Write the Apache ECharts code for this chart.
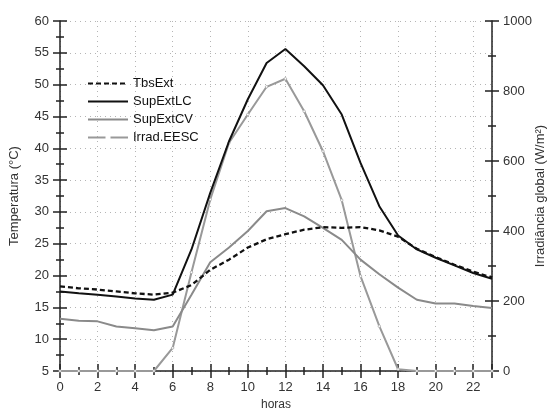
<!DOCTYPE html>
<html>
<head>
<meta charset="utf-8">
<script src="https://cdn.jsdelivr.net/npm/echarts@6/dist/echarts.min.js"></script>
<style>
  html, body { margin: 0; padding: 0; background: #fff; }
  #chart { width: 553px; height: 412px; }
</style>
</head>
<body>
<div id="chart"></div>
<script>
  // horas do dia
  var hours = [0, 1, 2, 3, 4, 5, 6, 7, 8, 9, 10, 11, 12, 13, 14, 15, 16, 17, 18, 19, 20, 21, 22, 23];

  // temperaturas (°C)
  var tbsExt = [18.3, 18.0, 17.8, 17.5, 17.2, 17.0, 17.3, 18.5, 20.9, 22.5, 24.4, 25.7, 26.5, 27.2, 27.6, 27.5, 27.6, 27.1, 26.1, 24.2, 22.9, 21.7, 20.6, 19.7];
  var supExtLC = [17.5, 17.2, 17.0, 16.7, 16.4, 16.2, 17.0, 24.1, 33.0, 41.1, 47.7, 53.4, 55.6, 52.9, 49.9, 45.3, 37.7, 30.9, 26.3, 24.1, 22.8, 21.6, 20.4, 19.5];
  var supExtCV = [13.2, 12.9, 12.8, 12.0, 11.7, 11.4, 12.0, 17.0, 22.1, 24.4, 27.0, 30.1, 30.6, 29.3, 27.5, 25.6, 22.5, 20.2, 18.1, 16.2, 15.6, 15.6, 15.2, 14.9];

  // irradiância global (W/m²)
  var irradEESC = [0, 0, 0, 0, 0, 0, 66, 282, 490, 652, 733, 812, 835, 742, 628, 488, 271, 128, 5, 0, 0, 0, 0, 0];

  function pairs(vals) {
    return hours.map(function (h, i) { return [h, vals[i]]; });
  }

  var chart = echarts.init(document.getElementById('chart'));
  var font = 'Liberation Sans, Arial, sans-serif';
  var dots = {show: true, lineStyle: {color: '#b5b5b5', width: 1, type: [1, 4]}};
  var tickStyle = {color: '#222', width: 1.5};
  var noMark = {opacity: 0};

  chart.setOption({
    animation: false,
    textStyle: {fontFamily: font},
    grid: {left: 60, right: 61, top: 21, bottom: 41, outerBoundsMode: 'none'},
    legend: {
      left: 82,
      top: 72,
      orient: 'vertical',
      itemWidth: 40,
      itemHeight: 14,
      itemGap: 5,
      textStyle: {fontSize: 13, color: '#111', fontFamily: font},
      data: [
        {name: 'TbsExt', itemStyle: noMark},
        {name: 'SupExtLC', itemStyle: noMark},
        {name: 'SupExtCV', itemStyle: noMark},
        {
          name: 'Irrad.EESC',
          // linha cinza com pequeno marcador branco ao meio
          icon: 'path://M0,6L17.5,6L17.5,8L0,8ZM22.5,6L40,6L40,8L22.5,8Z',
          itemStyle: {color: '#999', borderWidth: 0},
        },
      ],
    },
    xAxis: [
      {
        type: 'value', min: 0, max: 23, interval: 2,
        name: 'horas', nameLocation: 'middle', nameGap: 28,
        nameTextStyle: {fontSize: 12, color: '#333'},
        axisLine: {onZero: false, lineStyle: tickStyle},
        axisTick: {length: 7, lineStyle: tickStyle},
        minorTick: {show: true, splitNumber: 2, length: 4, lineStyle: tickStyle},
        axisLabel: {fontSize: 13, color: '#333', margin: 10, showMaxLabel: false},
        splitLine: dots,
      },
      {
        // ticks para dentro (cruzados)
        type: 'value', min: 0, max: 23, interval: 2, position: 'bottom',
        axisLine: {show: false, onZero: false},
        axisTick: {inside: true, length: 7, lineStyle: tickStyle},
        minorTick: {show: true, splitNumber: 2, length: 4, lineStyle: tickStyle},
        axisLabel: {show: false},
        splitLine: {show: false},
      },
    ],
    yAxis: [
      {
        type: 'value', min: 5, max: 60, interval: 5, position: 'left',
        name: 'Temperatura (°C)', nameLocation: 'middle', nameGap: 39, nameRotate: 90,
        nameMoveOverlap: false,
        nameTextStyle: {fontSize: 13, color: '#333'},
        axisLine: {show: true, onZero: false, lineStyle: tickStyle},
        axisTick: {length: 7, lineStyle: tickStyle},
        minorTick: {show: true, splitNumber: 2, length: 4, lineStyle: tickStyle},
        axisLabel: {fontSize: 13, color: '#333', margin: 11},
        splitLine: dots,
      },
      {
        type: 'value', min: 0, max: 1000, interval: 200, position: 'right',
        name: 'Irradiância global (W/m²)', nameLocation: 'middle', nameGap: 42, nameRotate: 90,
        nameMoveOverlap: false,
        nameTextStyle: {fontSize: 13, color: '#333'},
        axisLine: {show: true, onZero: false, lineStyle: tickStyle},
        axisTick: {length: 7, lineStyle: tickStyle},
        minorTick: {show: true, splitNumber: 2, length: 4, lineStyle: tickStyle},
        axisLabel: {fontSize: 13, color: '#333', margin: 11, formatter: function (v) { return String(v); }},
        splitLine: {show: false},
      },
      {
        type: 'value', min: 5, max: 60, interval: 5, position: 'left',
        axisLine: {show: false, onZero: false},
        axisTick: {inside: true, length: 7, lineStyle: tickStyle},
        minorTick: {show: true, splitNumber: 2, length: 4, lineStyle: tickStyle},
        axisLabel: {show: false},
        splitLine: {show: false},
      },
      {
        type: 'value', min: 0, max: 1000, interval: 200, position: 'right',
        axisLine: {show: false, onZero: false},
        axisTick: {inside: true, length: 7, lineStyle: tickStyle},
        minorTick: {show: true, splitNumber: 2, length: 4, lineStyle: tickStyle},
        axisLabel: {show: false},
        splitLine: {show: false},
      },
    ],
    series: [
      {
        name: 'Irrad.EESC', type: 'line', yAxisIndex: 1, z: 2,
        data: pairs(irradEESC),
        symbol: 'circle', symbolSize: 2.5, showSymbol: true,
        color: '#999',
        itemStyle: {color: '#fff', borderColor: '#999', borderWidth: 0.6},
        lineStyle: {color: '#999', width: 2},
      },
      {
        name: 'SupExtCV', type: 'line', z: 3,
        data: pairs(supExtCV),
        symbol: 'none', color: '#8a8a8a',
        lineStyle: {color: '#8a8a8a', width: 2},
      },
      {
        name: 'TbsExt', type: 'line', z: 4,
        data: pairs(tbsExt),
        symbol: 'none', color: '#111',
        lineStyle: {color: '#111', width: 2.3, type: [5, 3]},
      },
      {
        name: 'SupExtLC', type: 'line', z: 5,
        data: pairs(supExtLC),
        symbol: 'none', color: '#111',
        lineStyle: {color: '#111', width: 2},
      },
    ],
  });
</script>
</body>
</html>
